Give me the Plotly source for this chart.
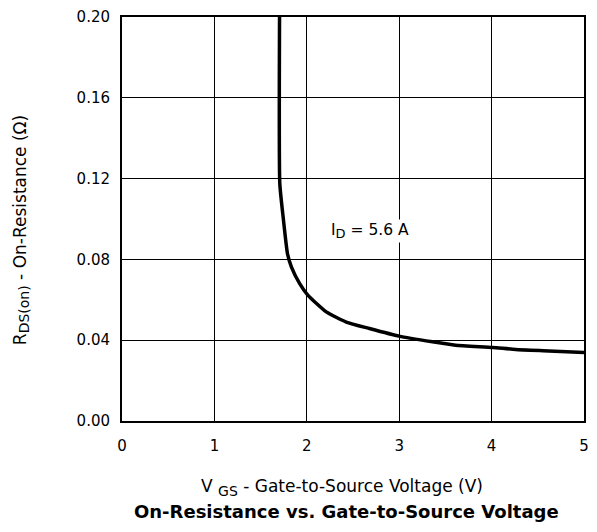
import plotly.graph_objects as go

# Data
vgs = [1.705, 1.708, 1.744, 1.791, 1.834, 1.923, 2.013, 2.211, 2.427, 2.678, 3.0, 3.36, 3.61, 4.01, 4.26, 4.62, 5.0]
rds = [0.200, 0.1174, 0.1009, 0.0828, 0.0762, 0.068, 0.0622, 0.054, 0.049, 0.0458, 0.042, 0.0392, 0.0375, 0.0364, 0.0354, 0.0347, 0.0339]
x_ticks = [0, 1, 2, 3, 4, 5]
y_ticks = [0.00, 0.04, 0.08, 0.12, 0.16, 0.20]

FONT = "DejaVu Sans, Liberation Sans, Arial, sans-serif"
SUB = '<sub><span style="font-size:{}px">{}</span></sub>'

fig = go.Figure()
fig.add_trace(go.Scatter(x=vgs, y=rds, mode="lines",
                         line=dict(color="black", width=3.5, shape="spline", smoothing=0.5),
                         showlegend=False, hoverinfo="skip"))

axis_common = dict(showgrid=True, gridcolor="black", gridwidth=1,
                   showline=True, linecolor="black", linewidth=2, mirror=True,
                   zeroline=False, ticks="outside", tickcolor="rgba(0,0,0,0)",
                   tickfont=dict(family=FONT, size=15, color="black"))

fig.update_xaxes(range=[0, 5], tickvals=x_ticks, ticklen=10, **axis_common)
fig.update_yaxes(range=[0, 0.2], tickvals=y_ticks, tickformat=".2f", ticklen=7, **axis_common)

fig.add_annotation(x=2.24, y=0.094, xref="x", yref="y", xanchor="left", yanchor="middle",
                   text="I" + SUB.format(13, "D") + " = 5.6 A", showarrow=False, bgcolor="white",
                   font=dict(family=FONT, size=15.5, color="black"))

fig.add_annotation(x=0.476, y=-0.165, xref="paper", yref="paper", xanchor="center", yanchor="middle",
                   text="V " + SUB.format(14, "GS") + " - Gate-to-Source Voltage (V)", showarrow=False,
                   font=dict(family=FONT, size=17, color="black"))
fig.add_annotation(x=0.487, y=-0.225, xref="paper", yref="paper", xanchor="center", yanchor="middle",
                   text="<b>On-Resistance vs. Gate-to-Source Voltage</b>", showarrow=False,
                   font=dict(family=FONT, size=18, color="black"))
fig.add_annotation(x=-0.219, y=0.472, xref="paper", yref="paper", xanchor="center", yanchor="middle",
                   text="R" + SUB.format(14, "DS(on)") + " - On-Resistance (Ω)", showarrow=False, textangle=-90,
                   font=dict(family=FONT, size=17, color="black"))

fig.update_layout(width=597, height=532, margin=dict(l=121.5, r=8, t=16, b=111),
                  plot_bgcolor="white", paper_bgcolor="white")

fig.write_html("out.html")
